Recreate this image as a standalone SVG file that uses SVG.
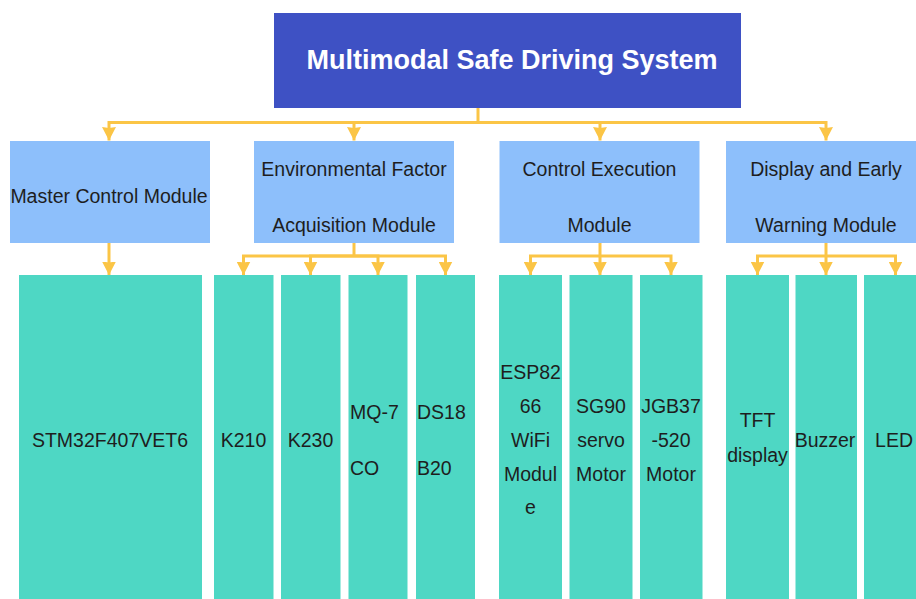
<svg xmlns="http://www.w3.org/2000/svg" width="916" height="599" viewBox="0 0 916 599">
  <style>
    .title { fill: #3E51C4; }
    .module { fill: #8DBFFB; }
    .part { fill: #4ED7C4; }
    .lbl { font-family: "Liberation Sans", Arial, sans-serif; font-size: 19.5px; fill: #1E1E1E; }
    .mid { text-anchor: middle; }
    .ttl { font-family: "Liberation Sans", Arial, sans-serif; font-size: 27px; font-weight: bold; fill: #FFFFFF; text-anchor: middle; }
    .link { fill: none; stroke: #FBC546; stroke-width: 3; marker-end: url(#arrow); }
    .stub { fill: none; stroke: #FBC546; stroke-width: 3; }
  </style>
  <defs>
    <!-- filled arrowhead, tip at the end of each link -->
    <marker id="arrow" viewBox="0 0 14 14" refX="13.5" refY="7" markerWidth="14" markerHeight="14" markerUnits="userSpaceOnUse" orient="auto">
      <path d="M0,0 L13.5,7 L0,14 L1,7 Z" fill="#FBC546"/>
    </marker>
  </defs>

  <rect width="916" height="599" fill="#FFFFFF"/>

  <!-- connectors -->
  <g id="connectors">
    <path class="stub" d="M478,108 V122.5"/>
    <path class="link" d="M478,122.5 H109 V140.5"/>
    <path class="link" d="M478,122.5 H354 V140.5"/>
    <path class="link" d="M478,122.5 H600 V140.5"/>
    <path class="link" d="M478,122.5 H826 V140.5"/>

    <path class="link" d="M109,243 V275"/>

    <path class="stub" d="M354,243 V256"/>
    <path class="link" d="M354,256 H243.5 V275"/>
    <path class="link" d="M354,256 H310.5 V275"/>
    <path class="link" d="M354,256 H378 V275"/>
    <path class="link" d="M354,256 H445.5 V275"/>

    <path class="stub" d="M600,243 V256"/>
    <path class="link" d="M600,256 H530.5 V275"/>
    <path class="link" d="M600,256 V275"/>
    <path class="link" d="M600,256 H671 V275"/>

    <path class="stub" d="M826,243 V256"/>
    <path class="link" d="M826,256 H757.5 V275"/>
    <path class="link" d="M826,256 V275"/>
    <path class="link" d="M826,256 H895.5 V275"/>
  </g>

  <!-- root -->
  <g id="system">
    <rect class="title" x="274" y="13" width="467" height="95"/>
    <text class="ttl" x="512" y="69">Multimodal Safe Driving System</text>
  </g>

  <!-- second level modules -->
  <g id="master-control">
    <rect class="module" x="10" y="141" width="200" height="102"/>
    <text class="lbl mid" x="109" y="203">Master Control Module</text>
  </g>
  <g id="env-acquisition">
    <rect class="module" x="254" y="141" width="200" height="102"/>
    <text class="lbl mid" x="354" y="176">Environmental Factor</text>
    <text class="lbl mid" x="354" y="231.5">Acquisition Module</text>
  </g>
  <g id="control-execution">
    <rect class="module" x="499.5" y="141" width="200" height="102"/>
    <text class="lbl mid" x="599.5" y="176">Control Execution</text>
    <text class="lbl mid" x="599.5" y="231.5">Module</text>
  </g>
  <g id="display-warning">
    <rect class="module" x="726" y="141" width="200" height="102"/>
    <text class="lbl mid" x="826" y="176">Display and Early</text>
    <text class="lbl mid" x="826" y="231.5">Warning Module</text>
  </g>

  <!-- components -->
  <g id="stm32">
    <rect class="part" x="19" y="275" width="183" height="325"/>
    <text class="lbl mid" x="110" y="446.5">STM32F407VET6</text>
  </g>
  <g id="k210">
    <rect class="part" x="214" y="275" width="59.5" height="325"/>
    <text class="lbl mid" x="243.5" y="446.5">K210</text>
  </g>
  <g id="k230">
    <rect class="part" x="281" y="275" width="59.5" height="325"/>
    <text class="lbl mid" x="310.5" y="446.5">K230</text>
  </g>
  <g id="mq7">
    <rect class="part" x="348.5" y="275" width="59" height="325"/>
    <text class="lbl" x="350" y="418.5">MQ-7</text>
    <text class="lbl" x="350" y="474.5">CO</text>
  </g>
  <g id="ds18b20">
    <rect class="part" x="416" y="275" width="59" height="325"/>
    <text class="lbl" x="417" y="418.5">DS18</text>
    <text class="lbl" x="417" y="474.5">B20</text>
  </g>
  <g id="esp8266">
    <rect class="part" x="499" y="275" width="63" height="325"/>
    <text class="lbl mid" x="530.5" y="379">ESP82</text>
    <text class="lbl mid" x="530.5" y="413">66</text>
    <text class="lbl mid" x="530.5" y="446.5">WiFi</text>
    <text class="lbl mid" x="530.5" y="480.5">Modul</text>
    <text class="lbl mid" x="530.5" y="514">e</text>
  </g>
  <g id="sg90">
    <rect class="part" x="569.5" y="275" width="63" height="325"/>
    <text class="lbl mid" x="601" y="413">SG90</text>
    <text class="lbl mid" x="601" y="446.5">servo</text>
    <text class="lbl mid" x="601" y="480.5">Motor</text>
  </g>
  <g id="jgb37">
    <rect class="part" x="640" y="275" width="62.5" height="325"/>
    <text class="lbl mid" x="671" y="413">JGB37</text>
    <text class="lbl mid" x="671" y="446.5">-520</text>
    <text class="lbl mid" x="671" y="480.5">Motor</text>
  </g>
  <g id="tft">
    <rect class="part" x="726" y="275" width="63" height="325"/>
    <text class="lbl mid" x="757.5" y="427">TFT</text>
    <text class="lbl mid" x="757.5" y="462">display</text>
  </g>
  <g id="buzzer">
    <rect class="part" x="795.5" y="275" width="61.5" height="325"/>
    <text class="lbl mid" x="825" y="446.5">Buzzer</text>
  </g>
  <g id="led">
    <rect class="part" x="864" y="275" width="63" height="325"/>
    <text class="lbl mid" x="894" y="446.5">LED</text>
  </g>
</svg>
